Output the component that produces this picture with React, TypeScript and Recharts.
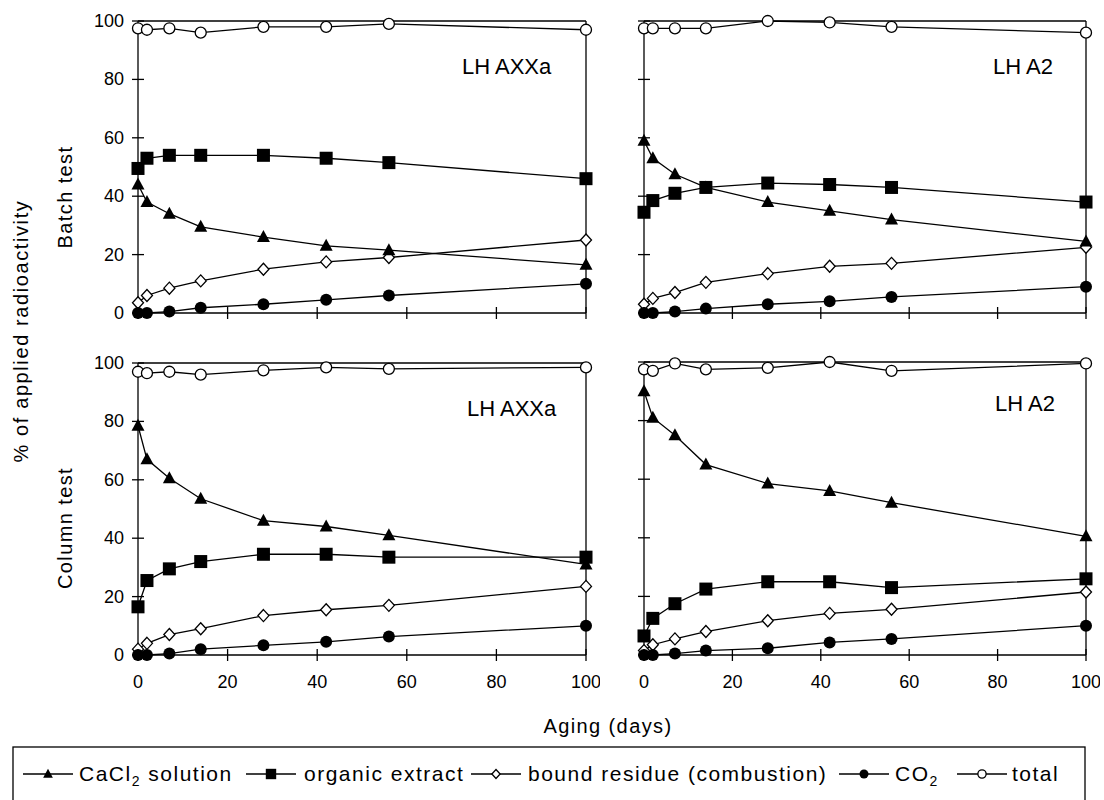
import React from "react";
import { LineChart, Line, XAxis, YAxis, ReferenceLine } from "recharts";

const days = [0, 2, 7, 14, 28, 42, 56, 100];
const axisTicks = [0, 20, 40, 60, 80, 100];

// Batch test, LH AXXa
const batchAxxaCacl2 = [44, 38, 34, 29.5, 26, 23, 21.5, 16.5];
const batchAxxaOrganic = [49.5, 53, 54, 54, 54, 53, 51.5, 46];
const batchAxxaBound = [3.5, 6, 8.5, 11, 15, 17.5, 19, 25];
const batchAxxaCo2 = [0, 0, 0.5, 1.8, 3, 4.5, 6, 10];
const batchAxxaTotal = [97.5, 97, 97.5, 96, 98, 98, 99, 97];

// Batch test, LH A2
const batchA2Cacl2 = [59, 53, 47.5, 43, 38, 35, 32, 24.5];
const batchA2Organic = [34.5, 38.5, 41, 43, 44.5, 44, 43, 38];
const batchA2Bound = [3, 5, 7, 10.5, 13.5, 16, 17, 22.5];
const batchA2Co2 = [0, 0, 0.5, 1.5, 3, 4, 5.5, 9];
const batchA2Total = [97.5, 97.5, 97.5, 97.5, 100, 99.5, 98, 96];

// Column test, LH AXXa
const columnAxxaCacl2 = [78.5, 67, 60.5, 53.5, 46, 44, 41, 31];
const columnAxxaOrganic = [16.5, 25.5, 29.5, 32, 34.5, 34.5, 33.5, 33.5];
const columnAxxaBound = [2, 4, 7, 9, 13.5, 15.5, 17, 23.5];
const columnAxxaCo2 = [0, 0, 0.5, 2, 3.3, 4.5, 6.3, 10];
const columnAxxaTotal = [97, 96.5, 97, 96, 97.5, 98.5, 98, 98.5];

// Column test, LH A2
const columnA2Cacl2 = [90, 81, 75, 65, 58.5, 56, 52, 40.5];
const columnA2Organic = [6.5, 12.5, 17.5, 22.5, 25, 25, 23, 26];
const columnA2Bound = [1.5, 3.5, 5.5, 8, 11.7, 14.2, 15.6, 21.5];
const columnA2Co2 = [0, 0, 0.5, 1.5, 2.3, 4.3, 5.5, 10];
const columnA2Total = [97.5, 97, 99.5, 97.5, 98, 100, 97, 99.5];

const FONT = "'Liberation Sans', Arial, Helvetica, sans-serif";
const TICK = 6;
const Y_GAP = 8;
const X_GAP = 14;

const rows = (cacl2: number[], organic: number[], bound: number[], co2: number[], total: number[]) =>
  days.map((d, i) => ({ day: d, cacl2: cacl2[i], organic: organic[i], bound: bound[i], co2: co2[i], total: total[i] }));

// marker shapes
const triangle = (cx: number, cy: number, s = 1) => (
  <path d={`M${cx},${cy - 7 * s}L${cx + 6.5 * s},${cy + 5 * s}L${cx - 6.5 * s},${cy + 5 * s}Z`} fill="#000" />
);
const square = (cx: number, cy: number, s = 1) => (
  <rect x={cx - 6.5 * s} y={cy - 6.5 * s} width={13 * s} height={13 * s} fill="#000" />
);
const diamond = (cx: number, cy: number, s = 1) => (
  <path d={`M${cx},${cy - 6 * s}L${cx + 5.5 * s},${cy}L${cx},${cy + 6 * s}L${cx - 5.5 * s},${cy}Z`} fill="#fff" stroke="#000" strokeWidth={1.3} />
);
const dotFilled = (cx: number, cy: number, s = 1) => <circle cx={cx} cy={cy} r={6 * s} fill="#000" />;
const dotOpen = (cx: number, cy: number, s = 1) => (
  <circle cx={cx} cy={cy} r={5.5 * s} fill="#fff" stroke="#000" strokeWidth={1.3} />
);

const markerDot = (shape: (cx: number, cy: number) => React.ReactElement) => (p: any) => (
  <g key={`m-${p.index}`}>{p.cx == null ? null : shape(p.cx, p.cy)}</g>
);

// ticks cross the axis: outward part is the tickLine, inward part drawn here
const yTick = (labels: boolean) => (p: any) => {
  const ax = p.x + TICK + Y_GAP;
  return (
    <g>
      <line x1={ax} x2={ax + TICK} y1={p.y} y2={p.y} stroke="#000" strokeWidth={1.3} />
      {labels ? (
        <text x={p.x} y={p.y} textAnchor="end" dominantBaseline="central" fontSize={18} fontFamily={FONT} fill="#000">
          {p.payload.value}
        </text>
      ) : null}
    </g>
  );
};
const xTick = (labels: boolean) => (p: any) => {
  const ay = p.y - TICK - X_GAP;
  return (
    <g>
      <line x1={p.x} x2={p.x} y1={ay - TICK} y2={ay} stroke="#000" strokeWidth={1.3} />
      {labels ? (
        <text x={p.x} y={p.y + 7} textAnchor="middle" dominantBaseline="central" fontSize={18} fontFamily={FONT} fill="#000">
          {p.payload.value}
        </text>
      ) : null}
    </g>
  );
};

const series = [
  { key: "total", shape: dotOpen },
  { key: "bound", shape: diamond },
  { key: "co2", shape: dotFilled },
  { key: "organic", shape: square },
  { key: "cacl2", shape: triangle },
];

interface PanelProps {
  left: number;
  top: number;
  width: number;
  height: number;
  marginTop: number;
  yWidth: number;
  xHeight: number;
  yLabels: boolean;
  xLabels: boolean;
  data: any[];
}

function Panel({ left, top, width, height, marginTop, yWidth, xHeight, yLabels, xLabels, data }: PanelProps) {
  return (
    <div style={{ position: "absolute", left, top }}>
      <LineChart width={width} height={height} data={data} margin={{ top: marginTop, right: 14, bottom: 0, left: 0 }}>
        <XAxis
          dataKey="day"
          type="number"
          domain={[0, 100]}
          ticks={axisTicks}
          height={xHeight}
          tick={xTick(xLabels)}
          tickSize={TICK}
          tickMargin={X_GAP}
          axisLine={{ stroke: "#000", strokeWidth: 1.3 }}
          tickLine={{ stroke: "#000", strokeWidth: 1.3 }}
        />
        <YAxis
          type="number"
          domain={[0, 100]}
          ticks={axisTicks}
          width={yWidth}
          tick={yTick(yLabels)}
          tickSize={TICK}
          tickMargin={Y_GAP}
          axisLine={{ stroke: "#000", strokeWidth: 1.3 }}
          tickLine={{ stroke: "#000", strokeWidth: 1.3 }}
        />
        <ReferenceLine y={100} stroke="#000" strokeWidth={1.3} />
        <ReferenceLine x={100} stroke="#000" strokeWidth={1.3} />
        {series.map((s) => (
          <Line
            key={s.key}
            dataKey={s.key}
            type="linear"
            stroke="#000"
            strokeWidth={1.3}
            dot={markerDot(s.shape)}
            activeDot={false}
            isAnimationActive={false}
          />
        ))}
      </LineChart>
    </div>
  );
}

const legendItems = [
  { label: "CaCl", sub: "2", tail: " solution", x: 23, shape: triangle, textX: 79, s: 0.75 },
  { label: "organic extract", x: 246, shape: square, textX: 304, s: 0.8 },
  { label: "bound residue (combustion)", x: 471, shape: diamond, textX: 528, s: 0.75 },
  { label: "CO", sub: "2", tail: "", x: 839, shape: dotFilled, textX: 895, s: 0.75 },
  { label: "total", x: 957, shape: dotOpen, textX: 1012, s: 0.75 },
];

function Overlay() {
  const t = { fontFamily: FONT, fill: "#000" } as const;
  return (
    <svg width={1104} height={800} style={{ position: "absolute", left: 0, top: 0, pointerEvents: "none" }}>
      <text x={462} y={74} fontSize={22} {...t}>LH AXXa</text>
      <text x={993} y={74} fontSize={22} {...t}>LH A2</text>
      <text x={467} y={416} fontSize={22} {...t}>LH AXXa</text>
      <text x={995} y={411} fontSize={22} {...t}>LH A2</text>

      <text x={608} y={733} fontSize={20} letterSpacing={1.4} textAnchor="middle" {...t}>Aging (days)</text>
      <text transform="translate(72,197) rotate(-90)" fontSize={20} letterSpacing={1.4} textAnchor="middle" {...t}>Batch test</text>
      <text transform="translate(72,528) rotate(-90)" fontSize={20} letterSpacing={1.4} textAnchor="middle" {...t}>Column test</text>
      <text transform="translate(28,331) rotate(-90)" fontSize={20} letterSpacing={1.6} textAnchor="middle" {...t}>% of applied radioactivity</text>

      <rect x={13} y={747} width={1072} height={70} fill="none" stroke="#000" strokeWidth={1.3} />
      {legendItems.map((it) => (
        <g key={it.label}>
          <line x1={it.x} x2={it.x + 50} y1={774} y2={774} stroke="#000" strokeWidth={1.3} />
          {it.shape(it.x + 25, 774, it.s)}
          <text x={it.textX} y={781} fontSize={21} letterSpacing={1.5} {...t}>
            {it.label}
            {it.sub ? <tspan fontSize={14} dy={5}>{it.sub}</tspan> : null}
            {it.sub && it.tail ? <tspan dy={-5}>{it.tail}</tspan> : null}
          </text>
        </g>
      ))}
    </svg>
  );
}

export default function App() {
  return (
    <div style={{ position: "absolute", left: 0, top: 0, width: 1104, height: 800, background: "#fff", overflow: "hidden" }}>
      <Panel left={40} top={0} width={560} height={333} marginTop={21} yWidth={98} xHeight={20} yLabels xLabels={false}
        data={rows(batchAxxaCacl2, batchAxxaOrganic, batchAxxaBound, batchAxxaCo2, batchAxxaTotal)} />
      <Panel left={600} top={0} width={500} height={333} marginTop={21} yWidth={44} xHeight={20} yLabels={false} xLabels={false}
        data={rows(batchA2Cacl2, batchA2Organic, batchA2Bound, batchA2Co2, batchA2Total)} />
      <Panel left={40} top={330} width={560} height={365} marginTop={33} yWidth={98} xHeight={40} yLabels xLabels
        data={rows(columnAxxaCacl2, columnAxxaOrganic, columnAxxaBound, columnAxxaCo2, columnAxxaTotal)} />
      <Panel left={600} top={330} width={500} height={365} marginTop={32} yWidth={44} xHeight={40} yLabels={false} xLabels
        data={rows(columnA2Cacl2, columnA2Organic, columnA2Bound, columnA2Co2, columnA2Total)} />
      <Overlay />
    </div>
  );
}
